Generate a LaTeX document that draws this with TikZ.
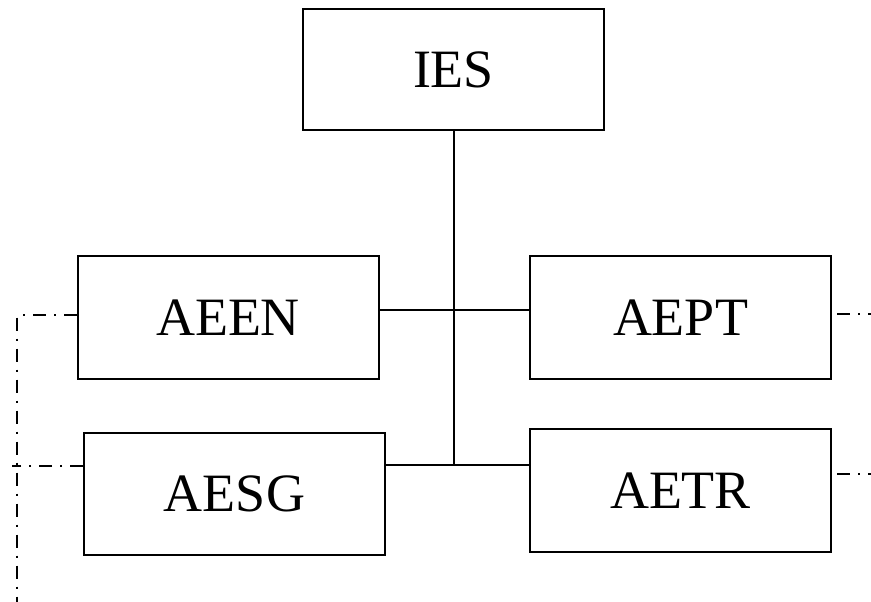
\documentclass[tikz,border=0pt]{standalone}
\usepackage{fontspec}
\setmainfont{Liberation Serif}
\begin{document}
\begin{tikzpicture}[x=1pt,y=-1pt,
  box/.style={draw,line width=2pt,rectangle,inner sep=0pt,minimum width=301pt,font=\fontsize{54}{60}\selectfont},
  link/.style={line width=2pt},
  dd/.style={line width=2pt,dash pattern=on 13pt off 8pt on 2pt off 8pt}]
\useasboundingbox (0,0) rectangle (871,602);
\node[box,minimum height=121pt] (IES) at (453.5,69.5) {IES};
\node[box,minimum height=123pt] (AEEN) at (228,317.5) {AEEN};
\node[box,minimum height=123pt] (AEPT) at (680.5,317.5) {AEPT};
\node[box,minimum height=122pt] (AESG) at (234.5,493.5) {AESG};
\node[box,minimum height=123pt] (AETR) at (680.5,490.5) {AETR};
\coordinate (j1) at (453.5,310);
\coordinate (j2) at (453.5,465);
\coordinate (L1) at (17,315);
\coordinate (Lb) at (17,602);
\coordinate (L2) at (12,466);
\coordinate (R1) at (871,314);
\coordinate (R2) at (871,474);
\draw[link] (IES.south) -- (j2);
\draw[link] (AEEN.east |- j1) -- (AEPT.west |- j1);
\draw[link] (AESG.east |- j2) -- (AETR.west |- j2);
\draw[dd] (AEEN.west |- L1) -- (L1) -- (Lb);
\draw[dd] (AESG.west |- L2) -- (L2);
\draw[dd] ([xshift=5pt]AEPT.east |- R1) -- (R1);
\draw[dd] ([xshift=5pt]AETR.east |- R2) -- (R2);
\end{tikzpicture}
\end{document}
